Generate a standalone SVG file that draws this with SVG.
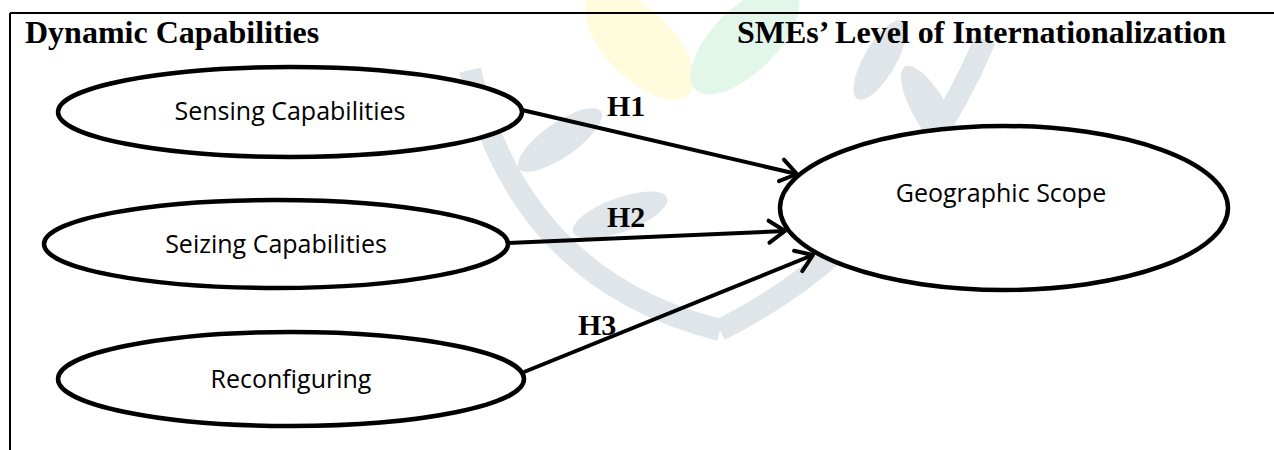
<svg xmlns="http://www.w3.org/2000/svg" width="1274" height="450" viewBox="0 0 1274 450">
  <style>
    .title { font-family: "Liberation Serif", "Times New Roman", serif; font-weight: bold; font-size: 32px; fill: #000; }
    .hlabel { font-family: "Liberation Serif", "Times New Roman", serif; font-weight: bold; font-size: 30px; fill: #000; }
    .node ellipse { fill: #fff; stroke: #000; stroke-width: 4.5; }
    .node text { font-family: "Open Sans", "Noto Sans", sans-serif; font-size: 25px; fill: #000; text-anchor: middle; }
    .edge { fill: none; stroke: #000; stroke-width: 4; }
    .frame { stroke: #000; stroke-width: 2; fill: none; }
    .wm { fill: #dfe5e9; stroke: none; }
    .wmband { fill: none; stroke: #dfe5e9; stroke-width: 22; }
  </style>
  <defs>
    <marker id="arrow" markerUnits="userSpaceOnUse" markerWidth="28" markerHeight="28" viewBox="0 0 28 28" refX="24" refY="14" orient="auto">
      <path d="M8,3 L24,14 L8,25" fill="none" stroke="#000" stroke-width="4" stroke-linecap="round" stroke-linejoin="round"/>
    </marker>
  </defs>
  <rect width="1274" height="450" fill="#fff"/>
  <g id="watermark">
    <ellipse cx="640" cy="45" rx="70" ry="34" transform="rotate(45 640 45)" fill="#fffbdc"/>
    <ellipse cx="745" cy="40" rx="70" ry="32" transform="rotate(-45 745 40)" fill="#e2f6ea"/>
    <path class="wmband" d="M470,70 Q520,280 720,330"/>
    <path class="wmband" d="M720,330 Q900,240 985,40"/>
    <ellipse class="wm" cx="560" cy="140" rx="50" ry="17" transform="rotate(-35 560 140)"/>
    <ellipse class="wm" cx="620" cy="215" rx="50" ry="17" transform="rotate(-20 620 215)"/>
    <ellipse class="wm" cx="860" cy="190" rx="50" ry="17" transform="rotate(35 860 190)"/>
    <ellipse class="wm" cx="930" cy="110" rx="50" ry="17" transform="rotate(60 930 110)"/>
    <ellipse class="wm" cx="880" cy="60" rx="45" ry="16" transform="rotate(-60 880 60)"/>
  </g>
  <g id="frame">
    <line class="frame" x1="10" y1="13" x2="1274" y2="13"/>
    <line class="frame" x1="10" y1="13" x2="10" y2="450"/>
  </g>
  <g id="headings">
    <text class="title" x="25" y="43">Dynamic Capabilities</text>
    <text class="title" x="737" y="43">SMEs’ Level of Internationalization</text>
  </g>
  <g id="connectors">
    <line class="edge" x1="522" y1="110" x2="797" y2="174" marker-end="url(#arrow)"/>
    <line class="edge" x1="508" y1="243" x2="785" y2="231" marker-end="url(#arrow)"/>
    <line class="edge" x1="524" y1="372" x2="813" y2="255" marker-end="url(#arrow)"/>
    <text class="hlabel" x="607" y="116">H1</text>
    <text class="hlabel" x="607" y="227">H2</text>
    <text class="hlabel" x="578" y="335">H3</text>
  </g>
  <g id="sensing" class="node">
    <ellipse cx="290" cy="112" rx="232" ry="45"/>
    <text x="290" y="120">Sensing Capabilities</text>
  </g>
  <g id="seizing" class="node">
    <ellipse cx="276" cy="244" rx="232" ry="44"/>
    <text x="276" y="253">Seizing Capabilities</text>
  </g>
  <g id="reconfiguring" class="node">
    <ellipse cx="291" cy="379" rx="233" ry="47"/>
    <text x="291" y="388">Reconfiguring</text>
  </g>
  <g id="geographic" class="node">
    <ellipse cx="1004" cy="208" rx="224" ry="82"/>
    <text x="1001" y="202">Geographic Scope</text>
  </g>
</svg>
